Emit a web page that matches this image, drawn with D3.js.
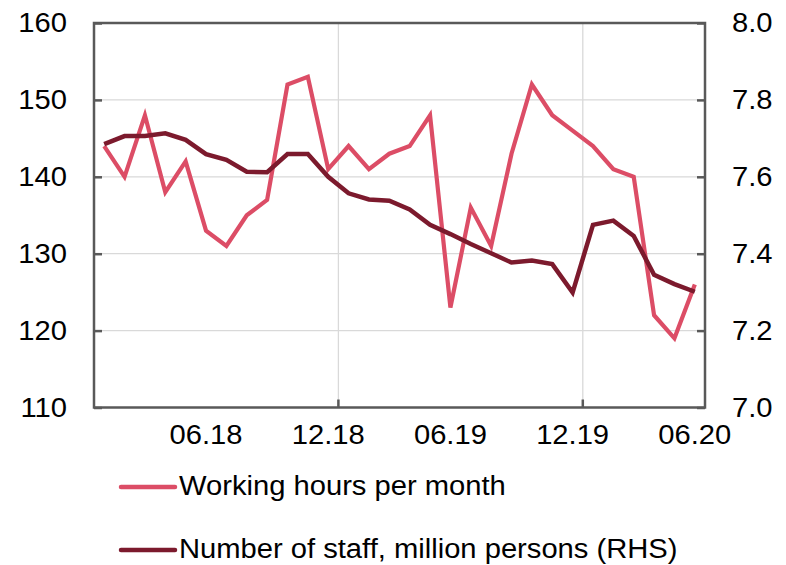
<!DOCTYPE html>
<html>
<head>
<meta charset="utf-8">
<script src="https://cdn.jsdelivr.net/npm/d3@7"></script>
<style>
  html, body { margin: 0; padding: 0; background: #fff; }
  svg { display: block; font-family: "Liberation Sans", Arial, sans-serif; }
</style>
</head>
<body>
<svg id="chart" width="786" height="565"></svg>
<script>
// Months from 01.18 to 06.20
const months = [
  "01.18","02.18","03.18","04.18","05.18","06.18","07.18","08.18","09.18","10.18","11.18","12.18",
  "01.19","02.19","03.19","04.19","05.19","06.19","07.19","08.19","09.19","10.19","11.19","12.19",
  "01.20","02.20","03.20","04.20","05.20","06.20"
];
// Working hours per month (left axis)
const hours = [
  144, 140, 148, 138, 142, 133, 131, 135, 137, 152, 153, 141,
  144, 141, 143, 144, 148, 123, 136, 131, 143, 152, 148, 146,
  144, 141, 140, 122, 119, 126
];
// Number of staff, million persons (right axis)
const staff = [
  7.685, 7.706, 7.706, 7.713, 7.696, 7.659, 7.644, 7.613, 7.612, 7.659, 7.659, 7.600,
  7.557, 7.541, 7.538, 7.515, 7.475, 7.451, 7.425, 7.401, 7.377, 7.382, 7.373, 7.299,
  7.475, 7.486, 7.446, 7.345, 7.321, 7.301
];
const leftTicks = [110, 120, 130, 140, 150, 160];
const rightTicks = [7.0, 7.2, 7.4, 7.6, 7.8, 8.0];
const labelMonths = ["06.18", "12.18", "06.19", "12.19", "06.20"];
const gridMonths = ["12.18", "12.19"];
const seriesNames = ["Working hours per month", "Number of staff, million persons (RHS)"];
const colors = ["#dc4d66", "#7c1a2d"];

const FONT = 27;      // label size
const STRETCH = 1.08; // slightly wide lettering

const svg = d3.select("#chart");
const m = { left: 94, right: 705, top: 23, bottom: 407.5 };

const x = d3.scaleBand().domain(months).range([m.left, m.right]).padding(0);
const yL = d3.scaleLinear().domain([110, 160]).range([m.bottom, m.top]);
const yR = d3.scaleLinear().domain([7.0, 8.0]).range([m.bottom, m.top]);
const cx = d => x(d) + x.bandwidth() / 2;

// Widen a text element around its anchor point
function widen(sel) {
  sel.each(function () {
    const t = d3.select(this);
    const tx = +t.attr("x") || 0;
    const ty = +t.attr("y") || 0;
    t.attr("x", 0).attr("y", 0)
     .attr("transform", `translate(${tx},${ty}) scale(${STRETCH},1)`);
  });
}

// Horizontal gridlines
svg.append("g").selectAll("line")
  .data(leftTicks.slice(1, -1)).join("line")
  .attr("x1", m.left).attr("x2", m.right)
  .attr("y1", d => yL(d)).attr("y2", d => yL(d))
  .attr("stroke", "#d9d9d9").attr("stroke-width", 1.3);

// Vertical gridlines at year ends (boundary after December)
svg.append("g").selectAll("line")
  .data(gridMonths).join("line")
  .attr("x1", d => x(d) + x.bandwidth()).attr("x2", d => x(d) + x.bandwidth())
  .attr("y1", m.top).attr("y2", m.bottom)
  .attr("stroke", "#d9d9d9").attr("stroke-width", 1.3);

// Frame
const axisColor = "#595959";
svg.append("rect")
  .attr("x", m.left).attr("y", m.top)
  .attr("width", m.right - m.left).attr("height", m.bottom - m.top)
  .attr("fill", "none").attr("stroke", axisColor).attr("stroke-width", 2.5);

// Left axis (ticks pointing inward)
const leftAxis = d3.axisLeft(yL).tickValues(leftTicks).tickSize(-8).tickPadding(27).tickFormat(d3.format("d"));
const gL = svg.append("g").attr("transform", `translate(${m.left},0)`).call(leftAxis);
gL.select(".domain").remove();
gL.selectAll(".tick line").attr("stroke", axisColor).attr("stroke-width", 2.5);
gL.selectAll(".tick text").attr("font-size", FONT).attr("fill", "#000")
  .attr("font-family", "'Liberation Sans', Arial, sans-serif").call(widen);

// Right axis
const rightAxis = d3.axisRight(yR).tickValues(rightTicks).tickSize(-8).tickPadding(27).tickFormat(d3.format(".1f"));
const gR = svg.append("g").attr("transform", `translate(${m.right},0)`).call(rightAxis);
gR.select(".domain").remove();
gR.selectAll(".tick line").attr("stroke", axisColor).attr("stroke-width", 2.5);
gR.selectAll(".tick text").attr("font-size", FONT).attr("fill", "#000")
  .attr("font-family", "'Liberation Sans', Arial, sans-serif").call(widen);

// Bottom tick marks at year ends
svg.append("g").selectAll("line")
  .data(gridMonths).join("line")
  .attr("x1", d => x(d) + x.bandwidth()).attr("x2", d => x(d) + x.bandwidth())
  .attr("y1", m.bottom).attr("y2", m.bottom - 8)
  .attr("stroke", axisColor).attr("stroke-width", 2.5);

// Month labels
svg.append("g").selectAll("text")
  .data(labelMonths).join("text")
  .attr("x", d => cx(d)).attr("y", 444)
  .attr("text-anchor", "middle").attr("font-size", FONT).attr("fill", "#000")
  .text(d => d)
  .call(widen);

// Lines
const lineL = d3.line().x((d, i) => cx(months[i])).y(d => yL(d));
const lineR = d3.line().x((d, i) => cx(months[i])).y(d => yR(d));

svg.append("path").datum(hours)
  .attr("d", lineL).attr("fill", "none")
  .attr("stroke", colors[0]).attr("stroke-width", 4.2).attr("stroke-linejoin", "miter");

svg.append("path").datum(staff)
  .attr("d", lineR).attr("fill", "none")
  .attr("stroke", colors[1]).attr("stroke-width", 4.5).attr("stroke-linejoin", "miter");

// Legend
const legend = svg.append("g").selectAll("g")
  .data(seriesNames).join("g")
  .attr("transform", (d, i) => `translate(0,${487 + i * 63})`);
legend.append("line")
  .attr("x1", 121).attr("x2", 175).attr("y1", 0).attr("y2", 0)
  .attr("stroke", (d, i) => colors[i]).attr("stroke-width", 4.5).attr("stroke-linecap", "round");
legend.append("text")
  .attr("x", 179).attr("y", 8)
  .attr("font-size", FONT).attr("fill", "#000")
  .text(d => d)
  .call(widen);
</script>
</body>
</html>
